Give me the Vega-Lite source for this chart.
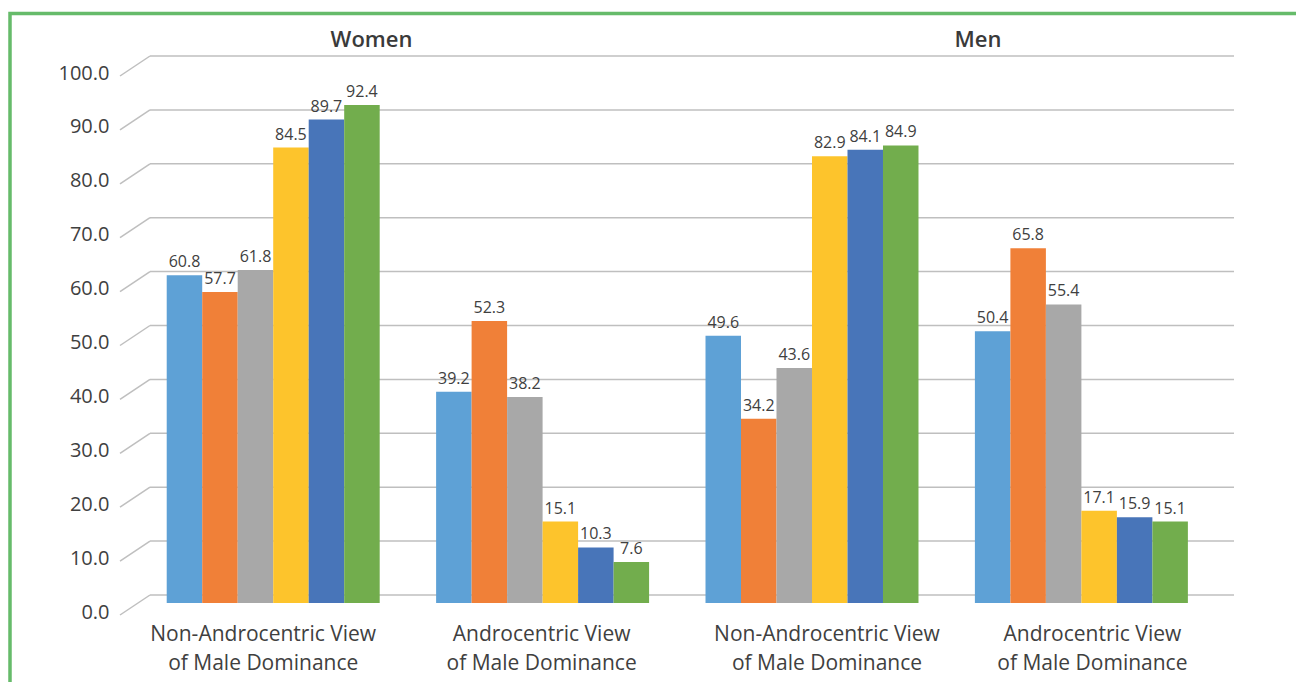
{
  "$schema": "https://vega.github.io/schema/vega-lite/v6.json",
  "width": 1290,
  "height": 672,
  "autosize": "none",
  "padding": {"left": 10, "top": 13.5, "right": -4, "bottom": -3.5},
  "background": "white",
  "config": {
    "font": "Open Sans",
    "view": {"stroke": "#66BB6A", "strokeWidth": 3.5},
    "axisY": {
      "format": ".1f",
      "labelFontSize": 20,
      "labelColor": "#404040",
      "labelPadding": 0,
      "labelOffset": 17,
      "offset": -99,
      "domain": false,
      "ticks": false,
      "grid": false
    },
    "axisX": {
      "labelAngle": 0,
      "labelFontSize": 21,
      "labelLineHeight": 29,
      "labelPadding": 28,
      "labelBaseline": "top",
      "labelColor": "#404040",
      "labelLimit": 400,
      "offset": -90.5,
      "domain": false,
      "ticks": false,
      "grid": false
    }
  },
  "datasets": {
    "ticks": [
      {"tick": 0}, {"tick": 10}, {"tick": 20}, {"tick": 30}, {"tick": 40}, {"tick": 50},
      {"tick": 60}, {"tick": 70}, {"tick": 80}, {"tick": 90}, {"tick": 100}
    ]
  },
  "layer": [
    {
      "data": {"name": "ticks"},
      "mark": {"type": "rule", "color": "#BFBFBF", "strokeWidth": 1.5},
      "encoding": {
        "x": {"value": 140},
        "x2": {"value": 1224},
        "y": {"field": "tick", "type": "quantitative", "title": null}
      }
    },
    {
      "data": {"name": "ticks"},
      "mark": {"type": "rule", "color": "#BFBFBF", "strokeWidth": 1.5, "yOffset": 20, "y2Offset": 0},
      "encoding": {
        "x": {"value": 110},
        "x2": {"value": 140},
        "y": {"field": "tick", "type": "quantitative", "title": null},
        "y2": {"field": "tick"}
      }
    },
    {
      "data": {
        "values": [
          {"sex": "Women", "group": "Women|Non-Androcentric View|of Male Dominance", "series": "Series 1", "value": 60.8},
          {"sex": "Women", "group": "Women|Non-Androcentric View|of Male Dominance", "series": "Series 2", "value": 57.7},
          {"sex": "Women", "group": "Women|Non-Androcentric View|of Male Dominance", "series": "Series 3", "value": 61.8},
          {"sex": "Women", "group": "Women|Non-Androcentric View|of Male Dominance", "series": "Series 4", "value": 84.5},
          {"sex": "Women", "group": "Women|Non-Androcentric View|of Male Dominance", "series": "Series 5", "value": 89.7},
          {"sex": "Women", "group": "Women|Non-Androcentric View|of Male Dominance", "series": "Series 6", "value": 92.4},
          {"sex": "Women", "group": "Women|Androcentric View|of Male Dominance", "series": "Series 1", "value": 39.2},
          {"sex": "Women", "group": "Women|Androcentric View|of Male Dominance", "series": "Series 2", "value": 52.3},
          {"sex": "Women", "group": "Women|Androcentric View|of Male Dominance", "series": "Series 3", "value": 38.2},
          {"sex": "Women", "group": "Women|Androcentric View|of Male Dominance", "series": "Series 4", "value": 15.1},
          {"sex": "Women", "group": "Women|Androcentric View|of Male Dominance", "series": "Series 5", "value": 10.3},
          {"sex": "Women", "group": "Women|Androcentric View|of Male Dominance", "series": "Series 6", "value": 7.6},
          {"sex": "Men", "group": "Men|Non-Androcentric View|of Male Dominance", "series": "Series 1", "value": 49.6},
          {"sex": "Men", "group": "Men|Non-Androcentric View|of Male Dominance", "series": "Series 2", "value": 34.2},
          {"sex": "Men", "group": "Men|Non-Androcentric View|of Male Dominance", "series": "Series 3", "value": 43.6},
          {"sex": "Men", "group": "Men|Non-Androcentric View|of Male Dominance", "series": "Series 4", "value": 82.9},
          {"sex": "Men", "group": "Men|Non-Androcentric View|of Male Dominance", "series": "Series 5", "value": 84.1},
          {"sex": "Men", "group": "Men|Non-Androcentric View|of Male Dominance", "series": "Series 6", "value": 84.9},
          {"sex": "Men", "group": "Men|Androcentric View|of Male Dominance", "series": "Series 1", "value": 50.4},
          {"sex": "Men", "group": "Men|Androcentric View|of Male Dominance", "series": "Series 2", "value": 65.8},
          {"sex": "Men", "group": "Men|Androcentric View|of Male Dominance", "series": "Series 3", "value": 55.4},
          {"sex": "Men", "group": "Men|Androcentric View|of Male Dominance", "series": "Series 4", "value": 17.1},
          {"sex": "Men", "group": "Men|Androcentric View|of Male Dominance", "series": "Series 5", "value": 15.9},
          {"sex": "Men", "group": "Men|Androcentric View|of Male Dominance", "series": "Series 6", "value": 15.1}
        ]
      },
      "layer": [
        {
          "mark": {"type": "bar", "yOffset": 8, "y2Offset": 8},
          "encoding": {
            "x": {
              "field": "group",
              "type": "nominal",
              "sort": null,
              "title": null,
              "scale": {"range": [140, 1224], "paddingInner": 0.2094, "paddingOuter": 0.1166, "align": 0.266},
              "axis": {
                "labelExpr": "slice(split(datum.value, '|'), 1)",
                "labelOffset": {
                  "condition": [
                    {"test": "indexof(datum.value, 'Women|Non') === 0", "value": -10},
                    {"test": "indexof(datum.value, 'Women|Andro') === 0", "value": -1},
                    {"test": "indexof(datum.value, 'Men|Non') === 0", "value": 15}
                  ],
                  "value": 11
                }
              }
            },
            "xOffset": {
              "field": "series",
              "type": "nominal",
              "sort": null,
              "scale": {"paddingInner": 0, "paddingOuter": 0}
            },
            "y": {
              "field": "value",
              "type": "quantitative",
              "title": null,
              "scale": {"domain": [0, 100], "range": [581.5, 42.5], "nice": false, "zero": true},
              "axis": {"values": [0, 10, 20, 30, 40, 50, 60, 70, 80, 90, 100]}
            },
            "color": {
              "field": "series",
              "type": "nominal",
              "sort": null,
              "legend": null,
              "scale": {"range": ["#5EA1D6", "#F08038", "#A8A8A8", "#FDC42C", "#4875B9", "#72AD4D"]}
            }
          }
        },
        {
          "mark": {"type": "text", "yOffset": 8, "dy": -8, "baseline": "alphabetic", "fontSize": 16, "color": "#404040"},
          "encoding": {
            "x": {"field": "group", "type": "nominal", "sort": null, "title": null},
            "xOffset": {"field": "series", "type": "nominal", "sort": null},
            "y": {"field": "value", "type": "quantitative", "title": null},
            "text": {"field": "value", "type": "quantitative", "format": ".1f"}
          }
        }
      ]
    },
    {
      "data": {"values": [{"sex": "Women"}, {"sex": "Men"}]},
      "mark": {"type": "text", "fontSize": 22, "fontWeight": 600, "color": "#3A3A3A", "baseline": "alphabetic", "dy": -9},
      "encoding": {
        "x": {
          "field": "sex",
          "type": "nominal",
          "sort": null,
          "scale": {"type": "point", "range": [140, 1224], "padding": 0.3937, "align": 0.4639},
          "axis": null
        },
        "y": {"datum": 100, "type": "quantitative", "title": null},
        "text": {"field": "sex", "type": "nominal"}
      }
    }
  ],
  "resolve": {"scale": {"x": "independent"}}
}
